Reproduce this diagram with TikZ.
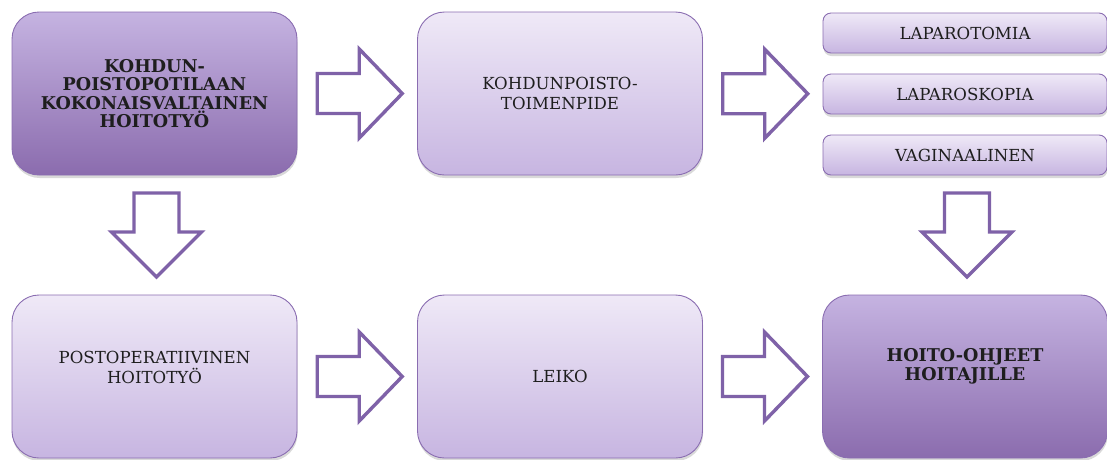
\documentclass[tikz,border=0pt]{standalone}
\usepackage{fontspec}
\setmainfont{DejaVu Serif}
\usetikzlibrary{calc,shadows}

\definecolor{edge}{HTML}{8A6DB1}
\definecolor{arrowc}{HTML}{7F62A8}
\definecolor{darktop}{HTML}{C5B3E1}
\definecolor{darkbot}{HTML}{8B6CAE}
\definecolor{lighttop}{HTML}{EFE9F7}
\definecolor{lightbot}{HTML}{C7B5E1}
\definecolor{ink}{HTML}{1E1E1E}

\tikzset{
  x=1pt, y=-1pt,
  lighttext/.style={font=\fontsize{16.6}{19.3}\selectfont},
  boldtext/.style={font=\fontsize{17.6}{18.6}\selectfont\bfseries},
  boxbase/.style={draw=edge, line width=0.9pt, rounded corners=27pt,
    drop shadow={shadow xshift=0.5pt, shadow yshift=-3pt, opacity=0.3},
    inner sep=0pt, text=ink, align=center},
  bigbox/.style={boxbase, minimum width=285pt, minimum height=163pt,
    top color=lighttop, bottom color=lightbot, lighttext},
  keybox/.style={bigbox, top color=darktop, bottom color=darkbot, boldtext},
  smallbox/.style={boxbase, rounded corners=8pt, minimum width=284pt,
    minimum height=40pt, top color=lighttop, bottom color=lightbot, lighttext},
  blockline/.style={draw=arrowc, fill=white, line width=3.4pt, line join=miter},
  rblock/.pic={\draw[blockline] (-42,-20) -- (0,-20) -- (0,-44.5) -- (43,0)
      -- (0,44.5) -- (0,20) -- (-42,20) -- cycle;},
  dblock/.pic={\draw[blockline] (-22.5,-42) -- (22.5,-42) -- (22.5,-3)
      -- (45,-3) -- (0,42) -- (-45,-3) -- (-22.5,-3) -- cycle;},
}

\begin{document}
\begin{tikzpicture}
\useasboundingbox (0,0) rectangle (1107,459);

% top row
\node[keybox] (kok) at (154.5,93.5) {KOHDUN-\\POISTOPOTILAAN\\KOKONAISVALTAINEN\\HOITOTYÖ};
\node[bigbox] (toim) at (560,93.5) {KOHDUNPOISTO-\\TOIMENPIDE};
\node[smallbox] (lapt) at (965,33) {LAPAROTOMIA};
\node[smallbox] (laps) at (965,94) {LAPAROSKOPIA};
\node[smallbox] (vag) at (965,155) {VAGINAALINEN};

% bottom row
\node[bigbox] (post) at (154.5,376.5) {};
\node[lighttext, text=ink, align=center]
  (posttxt) at ($(post.center)+(0,-9)$) {POSTOPERATIIVINEN\\HOITOTYÖ};
\node[bigbox] (leiko) at (560,376.5) {LEIKO};
\node[keybox] (ohje) at (965,376.5) {};
\node[boldtext, text=ink, align=center]
  (ohjetxt) at ($(ohje.center)+(0,-10)$) {HOITO-OHJEET\\HOITAJILLE};

% block arrows between the boxes
\pic at ($(kok.east)!0.5!(toim.west)+(2,0)$) {rblock};
\pic at ($(toim.east)!0.5!(laps.west)+(2,0)$) {rblock};
\pic at ($(post.east)!0.5!(leiko.west)+(2,0)$) {rblock};
\pic at ($(leiko.east)!0.5!(ohje.west)+(2,0)$) {rblock};
\pic at ($(kok.south)!0.5!(post.north)+(2,0)$) {dblock};
\pic at ($(vag.south)!0.5!(ohje.north)+(2,0)$) {dblock};
\end{tikzpicture}
\end{document}
